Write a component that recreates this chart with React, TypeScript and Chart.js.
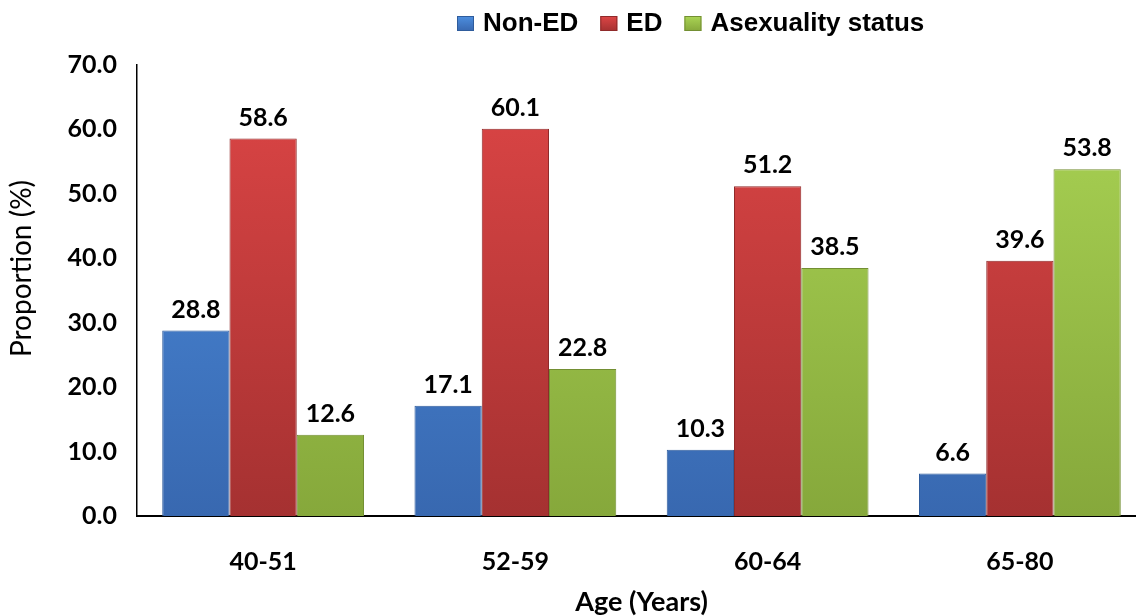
import React, { useEffect, useRef } from "react";
import { Chart, registerables } from "chart.js";

Chart.register(...registerables);

const categories = ["40-51", "52-59", "60-64", "65-80"];
const nonED = [28.8, 17.1, 10.3, 6.6];
const ED = [58.6, 60.1, 51.2, 39.6];
const asexuality = [12.6, 22.8, 38.5, 53.8];
const seriesNames = ["Non-ED", "ED", "Asexuality status"];
const yTicks = [0, 10, 20, 30, 40, 50, 60, 70];
const yTitle = "Proportion (%)";

const FONT = "Lato, 'Open Sans', sans-serif";
const LEGEND_FONT = "'Liberation Sans', Arial, sans-serif";

const palettes = [
  { top: "#4d8fe0", bottom: "#3868b0", border: "#2f5c9c" },
  { top: "#de4646", bottom: "#a53131", border: "#8f2a2a" },
  { top: "#abd555", bottom: "#86a83b", border: "#738f33" },
];

function makeFill(idx: number) {
  return (ctx: any) => {
    const chart = ctx.chart;
    const area = chart.chartArea;
    const p = palettes[idx];
    if (!area) return p.top;
    const el = ctx.element;
    const top = el && isFinite(el.y) ? el.y : area.top;
    const g = chart.ctx.createLinearGradient(0, top, 0, area.bottom);
    g.addColorStop(0, p.top);
    g.addColorStop(1, p.bottom);
    return g;
  };
}

const valueLabels = {
  id: "valueLabels",
  afterDatasetsDraw(chart: any) {
    const c = chart.ctx;
    c.save();
    c.font = `bold 25px ${FONT}`;
    c.fillStyle = "#000";
    c.textAlign = "center";
    c.textBaseline = "middle";
    chart.data.datasets.forEach((ds: any, i: number) => {
      const meta = chart.getDatasetMeta(i);
      meta.data.forEach((el: any, j: number) => {
        c.fillText(Number(ds.data[j]).toFixed(1), el.x, el.y - 21);
      });
    });
    c.restore();
  },
};

const yTitlePlugin = {
  id: "yTitlePlugin",
  afterDraw(chart: any) {
    const c = chart.ctx;
    const area = chart.chartArea;
    c.save();
    c.font = `28px ${FONT}`;
    c.fillStyle = "#000";
    c.textAlign = "center";
    c.textBaseline = "middle";
    c.translate(22, (area.top + area.bottom) / 2 - 22);
    c.rotate(-Math.PI / 2);
    c.fillText(yTitle, 0, 0);
    c.restore();
  },
};

const topLegend = {
  id: "topLegend",
  afterDraw(chart: any) {
    const c = chart.ctx;
    c.save();
    c.font = `bold 26px ${LEGEND_FONT}`;
    c.textBaseline = "middle";
    c.textAlign = "left";
    let x = 457;
    const cy = 23;
    seriesNames.forEach((name, i) => {
      const p = palettes[i];
      const g = c.createLinearGradient(0, cy - 7, 0, cy + 8);
      g.addColorStop(0, p.top);
      g.addColorStop(1, p.bottom);
      c.fillStyle = g;
      c.fillRect(x, cy - 7, 17, 15);
      c.strokeStyle = p.border;
      c.lineWidth = 1;
      c.strokeRect(x + 0.5, cy - 6.5, 16, 14);
      c.fillStyle = "#000";
      c.fillText(name, x + 26, cy + 1);
      x += 26 + c.measureText(name).width + 22;
    });
    c.restore();
  },
};

export default function App() {
  const ref = useRef<HTMLCanvasElement>(null);
  useEffect(() => {
    if (!ref.current) return;
    const chart = new Chart(ref.current, {
      type: "bar",
      data: {
        labels: categories,
        datasets: [nonED, ED, asexuality].map((d, i) => ({
          label: seriesNames[i],
          data: d,
          backgroundColor: makeFill(i),
          borderColor: palettes[i].border,
          borderWidth: 1,
          categoryPercentage: 0.8,
          barPercentage: 1.0,
        })),
      },
      options: {
        animation: false,
        responsive: true,
        maintainAspectRatio: false,
        layout: { padding: { top: 65, right: 0, left: 0, bottom: 0 } },
        plugins: {
          legend: { display: false },
          tooltip: { enabled: false },
        },
        scales: {
          x: {
            grid: { display: false, drawTicks: false },
            border: { display: true, color: "#000", width: 2 },
            ticks: {
              color: "#000",
              font: { family: FONT, size: 25, weight: "bold" },
              padding: 31,
            },
            title: {
              display: true,
              text: "Age (Years)",
              color: "#000",
              font: { family: FONT, size: 27, weight: "bold", lineHeight: 1.0 },
              padding: { top: 0, bottom: 0 },
            },
            afterFit: (s: any) => {
              s.height = 100;
            },
          },
          y: {
            min: 0,
            max: 70,
            grid: { display: false, drawTicks: false },
            border: { display: true, color: "#000", width: 1.5 },
            afterBuildTicks: (s: any) => {
              s.ticks = yTicks.map((v) => ({ value: v }));
            },
            ticks: {
              color: "#000",
              font: { family: FONT, size: 25, weight: "bold" },
              padding: 20,
              callback: (v: any) => Number(v).toFixed(1),
            },
            title: { display: false },
            afterFit: (s: any) => {
              s.width = 137;
            },
          },
        },
      },
      plugins: [valueLabels, yTitlePlugin, topLegend],
    });
    return () => chart.destroy();
  }, []);
  return (
    <div style={{ position: "absolute", left: 0, top: 0, width: 1136, height: 616, overflow: "hidden", background: "#fff" }}>
      <div style={{ position: "relative", width: 1146, height: 616 }}>
        <canvas ref={ref} />
      </div>
    </div>
  );
}
